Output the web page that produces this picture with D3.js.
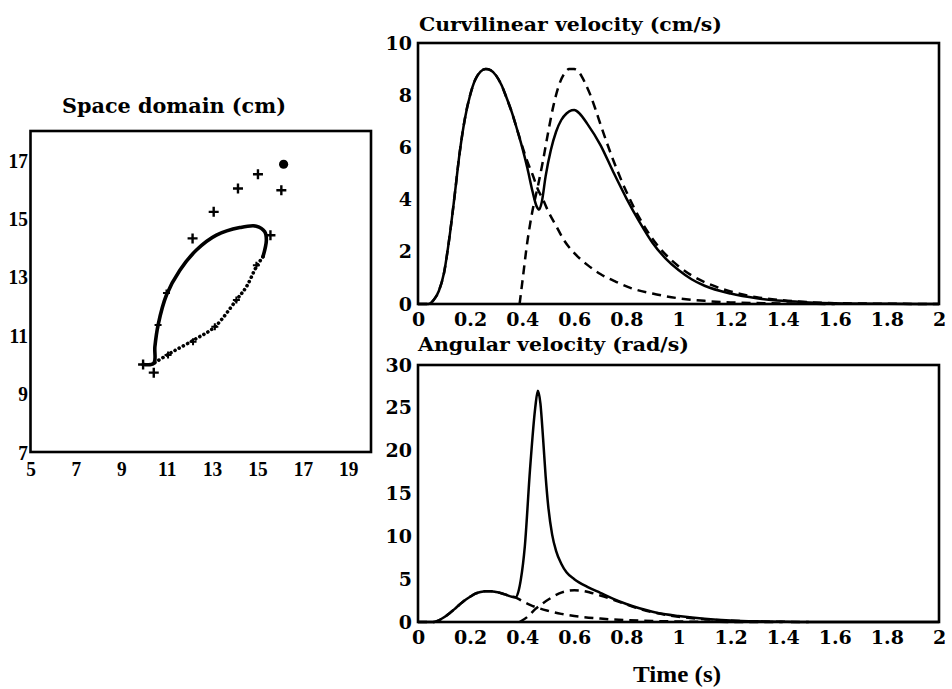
<!DOCTYPE html>
<html>
<head>
<meta charset="utf-8">
<script src="https://cdn.jsdelivr.net/npm/d3@7/dist/d3.min.js"></script>
<style>
  html, body { margin: 0; padding: 0; background: #fff; }
  svg { display: block; }
</style>
</head>
<body>
<svg id="chart" width="952" height="689"></svg>
<script>
// ---------------- DATA ----------------
const timeTicks = [0, 0.2, 0.4, 0.6, 0.8, 1, 1.2, 1.4, 1.6, 1.8, 2];
const curvTicks = [0, 2, 4, 6, 8, 10];
const angTicks = [0, 5, 10, 15, 20, 25, 30];
const spaceXTicks = [5, 7, 9, 11, 13, 15, 17, 19];
const spaceYTicks = [7, 9, 11, 13, 15, 17];

// Curvilinear velocity (cm/s): [time s, value]
const curvNet = [[0,0],[0.04,0],[0.06,0.15],[0.08,0.5],[0.1,1.2],[0.12,2.5],[0.14,4.1],[0.16,5.8],[0.18,7.1],[0.2,8.0],[0.22,8.6],[0.24,8.9],[0.26,9.0],[0.28,8.95],[0.3,8.75],[0.32,8.4],[0.34,7.9],[0.36,7.35],[0.38,6.7],[0.4,6.0],[0.42,5.2],[0.44,4.3],[0.455,3.75],[0.465,3.62],[0.475,3.9],[0.49,4.9],[0.51,5.9],[0.53,6.6],[0.55,7.05],[0.57,7.3],[0.59,7.42],[0.6,7.43],[0.62,7.3],[0.65,6.9],[0.7,6.1],[0.75,5.05],[0.8,4.05],[0.85,3.15],[0.9,2.35],[0.95,1.75],[1.0,1.3],[1.05,0.95],[1.1,0.7],[1.2,0.4],[1.3,0.22],[1.4,0.12],[1.5,0.06],[1.6,0.03],[1.8,0.01],[2,0]];
const curvStroke1 = [[0,0],[0.04,0],[0.06,0.15],[0.08,0.5],[0.1,1.2],[0.12,2.5],[0.14,4.1],[0.16,5.8],[0.18,7.1],[0.2,8.0],[0.22,8.6],[0.24,8.9],[0.26,9.0],[0.28,8.95],[0.3,8.75],[0.32,8.4],[0.34,7.9],[0.36,7.35],[0.38,6.7],[0.4,6.05],[0.42,5.45],[0.44,4.95],[0.46,4.4],[0.48,4.0],[0.5,3.55],[0.53,3.0],[0.56,2.45],[0.6,1.95],[0.65,1.5],[0.7,1.15],[0.76,0.85],[0.82,0.6],[0.9,0.4],[1.0,0.22],[1.1,0.12],[1.2,0.06],[1.4,0.02],[1.6,0]];
const curvStroke2 = [[0.39,0],[0.4,0.8],[0.42,2.4],[0.44,3.6],[0.46,4.5],[0.48,5.5],[0.5,6.6],[0.52,7.6],[0.54,8.35],[0.56,8.8],[0.58,9.0],[0.6,9.0],[0.62,8.85],[0.64,8.5],[0.66,8.05],[0.68,7.5],[0.7,6.9],[0.75,5.5],[0.8,4.3],[0.85,3.3],[0.9,2.5],[0.95,1.9],[1.0,1.45],[1.05,1.1],[1.1,0.84],[1.2,0.48],[1.3,0.26],[1.4,0.14],[1.5,0.07],[1.6,0.03],[1.8,0.01],[2,0]];

// Angular velocity (rad/s): [time s, value]
const angNet = [[0,0],[0.06,0],[0.08,0.2],[0.1,0.55],[0.12,1.0],[0.14,1.5],[0.16,2.05],[0.18,2.55],[0.2,2.95],[0.22,3.3],[0.24,3.5],[0.26,3.6],[0.28,3.6],[0.3,3.5],[0.32,3.35],[0.34,3.15],[0.36,2.95],[0.375,2.9],[0.385,3.5],[0.395,5.0],[0.41,8.8],[0.43,17.8],[0.45,25.0],[0.46,27.0],[0.47,25.5],[0.48,21.5],[0.49,17.0],[0.5,13.5],[0.515,10.2],[0.53,8.3],[0.55,6.8],[0.57,5.8],[0.6,5.0],[0.65,4.1],[0.7,3.4],[0.75,2.7],[0.8,2.1],[0.85,1.6],[0.9,1.2],[0.95,0.9],[1.0,0.7],[1.1,0.38],[1.2,0.18],[1.3,0.08],[1.4,0.03],[1.5,0],[2,0]];
const angStroke1 = [[0,0],[0.06,0],[0.08,0.2],[0.1,0.55],[0.12,1.0],[0.14,1.5],[0.16,2.05],[0.18,2.55],[0.2,2.95],[0.22,3.3],[0.24,3.5],[0.26,3.6],[0.28,3.6],[0.3,3.5],[0.32,3.35],[0.34,3.15],[0.36,2.95],[0.375,2.85],[0.4,2.45],[0.43,2.0],[0.46,1.65],[0.5,1.3],[0.55,0.95],[0.6,0.7],[0.7,0.4],[0.8,0.22],[0.9,0.12],[1.0,0.06],[1.2,0.01],[1.4,0]];
const angStroke2 = [[0.39,0],[0.42,0.6],[0.45,1.5],[0.48,2.2],[0.51,2.8],[0.54,3.3],[0.57,3.6],[0.6,3.7],[0.63,3.65],[0.66,3.45],[0.7,3.1],[0.75,2.6],[0.8,2.05],[0.85,1.55],[0.9,1.15],[0.95,0.85],[1.0,0.62],[1.1,0.33],[1.2,0.16],[1.3,0.07],[1.4,0.02],[1.5,0]];

// Space domain (cm): [x, y]
const loopFast = [[9.96,10.0],[10.43,10.04],[10.48,10.61],[10.62,11.35],[10.99,12.38],[11.58,13.23],[12.31,13.92],[13.19,14.43],[14.22,14.69],[14.95,14.74],[15.32,14.55],[15.39,14.26],[15.24,13.69]];
const loopSlow = [[15.24,13.69],[14.95,13.35],[14.51,12.66],[14.07,12.21],[13.12,11.29],[12.31,10.89],[11.14,10.38],[10.43,10.04]];
const targetPlus = [[16.05,15.97],[15.02,16.52],[14.14,16.03],[13.07,15.23],[12.14,14.32],[15.57,14.43],[9.96,10.0],[10.43,9.72]];
const samplePlus = [[10.62,11.35],[10.99,12.45],[14.95,13.4],[14.07,12.21],[13.12,11.29],[12.16,10.78],[11.06,10.32]];
const startPoint = [[16.15,16.86]];

// ---------------- DRAWING ----------------
const svg = d3.select("#chart");
svg.append("rect").attr("width", 952).attr("height", 689).attr("fill", "#fff");

const tickFont = "'DejaVu Serif', serif";
const fmt = d3.format("~g");

function velocityPanel(opts) {
  const x = d3.scaleLinear().domain([0, 2]).range([418, 939]);
  const y = d3.scaleLinear().domain(opts.domain).range([opts.bottom, opts.top]);
  const g = svg.append("g");
  const line = d3.line().x(d => x(d[0])).y(d => y(d[1])).curve(d3.curveMonotoneX);

  opts.dashed.forEach(series => {
    g.append("path").datum(series).attr("d", line)
      .attr("fill", "none").attr("stroke", "#000").attr("stroke-width", 2.5)
      .attr("stroke-dasharray", "9,6");
  });
  g.append("path").datum(opts.solid).attr("d", line)
    .attr("fill", "none").attr("stroke", "#000").attr("stroke-width", 2.5)
    .attr("stroke-linejoin", "round");

  g.append("rect").attr("x", x(0)).attr("y", y(opts.domain[1]))
    .attr("width", x(2) - x(0)).attr("height", y(opts.domain[0]) - y(opts.domain[1]))
    .attr("fill", "none").attr("stroke", "#000").attr("stroke-width", 2.6);

  const ax = g.append("g").attr("transform", `translate(0,${opts.bottom})`)
    .call(d3.axisBottom(x).tickValues(timeTicks).tickFormat(fmt).tickSize(0).tickPadding(9));
  const ay = g.append("g").attr("transform", `translate(418,0)`)
    .call(d3.axisLeft(y).tickValues(opts.ticks).tickFormat(fmt).tickSize(0).tickPadding(6));
  [ax, ay].forEach(a => {
    a.select(".domain").remove();
    a.selectAll("text").attr("font-family", tickFont).attr("font-weight", "bold")
      .attr("font-size", 19).attr("fill", "#000");
  });

  g.append("text").attr("x", opts.titleX).attr("y", opts.titleY)
    .attr("font-family", tickFont).attr("font-weight", "bold").attr("font-size", 19)
    .attr("textLength", opts.titleLen).attr("lengthAdjust", "spacingAndGlyphs")
    .text(opts.title);
}

velocityPanel({
  domain: [0, 10], top: 43, bottom: 304, ticks: curvTicks,
  solid: curvNet, dashed: [curvStroke1, curvStroke2],
  title: "Curvilinear velocity (cm/s)", titleX: 419, titleY: 31, titleLen: 303
});
velocityPanel({
  domain: [0, 30], top: 365, bottom: 622, ticks: angTicks,
  solid: angNet, dashed: [angStroke1, angStroke2],
  title: "Angular velocity (rad/s)", titleX: 418, titleY: 351, titleLen: 271
});

svg.append("text").attr("x", 633).attr("y", 682)
  .attr("font-family", "'Liberation Serif', serif").attr("font-weight", "bold")
  .attr("font-size", 24).attr("textLength", 88).attr("lengthAdjust", "spacingAndGlyphs")
  .text("Time (s)");

// Space domain panel
(function () {
  const x = d3.scaleLinear().domain([5, 20]).range([30.5, 371]);
  const y = d3.scaleLinear().domain([7, 18]).range([452, 131]);
  const g = svg.append("g");
  const line = d3.line().x(d => x(d[0])).y(d => y(d[1])).curve(d3.curveCatmullRom.alpha(0.5));

  g.append("path").datum(loopSlow).attr("d", line)
    .attr("fill", "none").attr("stroke", "#000").attr("stroke-width", 3.6)
    .attr("stroke-linecap", "round").attr("stroke-dasharray", "0.1,4.6");
  g.append("path").datum(loopFast).attr("d", line)
    .attr("fill", "none").attr("stroke", "#000").attr("stroke-width", 3.6)
    .attr("stroke-linecap", "round").attr("stroke-linejoin", "round");

  const plus = (sel, data, arm, sw) => {
    const p = sel.selectAll(null).data(data).enter().append("path")
      .attr("d", d => {
        const cx = x(d[0]), cy = y(d[1]);
        return `M${cx - arm},${cy}H${cx + arm}M${cx},${cy - arm}V${cy + arm}`;
      })
      .attr("stroke", "#000").attr("stroke-width", sw).attr("fill", "none");
    return p;
  };
  plus(g, targetPlus, 5, 2.4);
  plus(g, samplePlus, 3.5, 2);

  g.selectAll(null).data(startPoint).enter().append("circle")
    .attr("cx", d => x(d[0])).attr("cy", d => y(d[1])).attr("r", 4.6).attr("fill", "#000");

  g.append("rect").attr("x", x(5)).attr("y", y(18))
    .attr("width", x(20) - x(5)).attr("height", y(7) - y(18))
    .attr("fill", "none").attr("stroke", "#000").attr("stroke-width", 2.6);

  const ax = g.append("g").attr("transform", `translate(0,${y(7)})`)
    .call(d3.axisBottom(x).tickValues(spaceXTicks).tickFormat(fmt).tickSize(0).tickPadding(8));
  const ay = g.append("g").attr("transform", `translate(${x(5)},0)`)
    .call(d3.axisLeft(y).tickValues(spaceYTicks).tickFormat(fmt).tickSize(0).tickPadding(3));
  [ax, ay].forEach(a => {
    a.select(".domain").remove();
    a.selectAll("text").attr("font-family", "'Liberation Serif', serif").attr("font-weight", "bold")
      .attr("font-size", 22).attr("fill", "#000").attr("transform", "scale(0.88,1)");
  });

  g.append("text").attr("x", 62).attr("y", 113)
    .attr("font-family", tickFont).attr("font-weight", "bold").attr("font-size", 20)
    .attr("textLength", 224).attr("lengthAdjust", "spacingAndGlyphs")
    .text("Space domain (cm)");
})();
</script>
</body>
</html>
